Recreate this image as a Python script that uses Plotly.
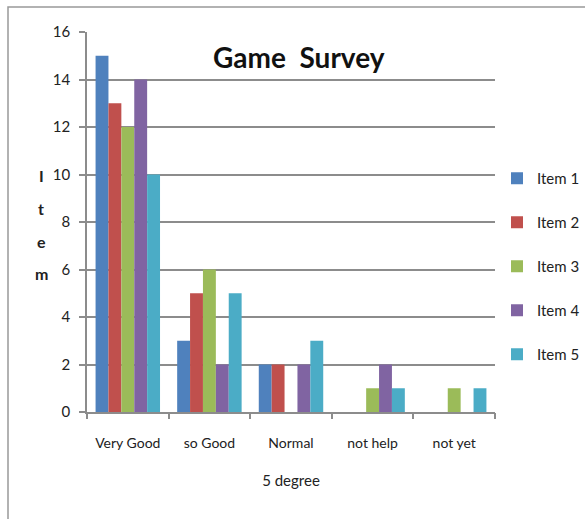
import plotly.graph_objects as go

categories = ["Very Good", "so Good", "Normal", "not help", "not yet"]
series_names = ["Item 1", "Item 2", "Item 3", "Item 4", "Item 5"]
item1 = [15, 3, 2, 0, 0]
item2 = [13, 5, 2, 0, 0]
item3 = [12, 6, 0, 1, 1]
item4 = [14, 2, 2, 2, 0]
item5 = [10, 5, 3, 1, 1]
y_ticks = [0, 2, 4, 6, 8, 10, 12, 14, 16]
colors = ["#4F81BD", "#C0504D", "#9BBB59", "#8064A2", "#4BACC6"]

FONT = "Lato, Liberation Sans Narrow, sans-serif"
W, H = 585, 519
ml, mr, mt, mb = 87, 90, 32, 107

fig = go.Figure()
xs = list(range(len(categories)))
for name, vals, c in zip(series_names, [item1, item2, item3, item4, item5], colors):
    fig.add_trace(go.Bar(x=xs, y=vals, name=name, marker=dict(color=c, line=dict(width=0)),
                         legendgroup=name))

# invisible trace to host boundary tick axis
fig.add_trace(go.Scatter(x=[-0.5, len(categories) - 0.5], y=[0, 0], xaxis="x2", mode="lines",
                         line=dict(width=0), showlegend=False, hoverinfo="skip"))

pw = W - ml - mr
ph = H - mt - mb

fig.update_layout(
    width=W, height=H,
    margin=dict(l=ml, r=mr, t=mt, b=mb, pad=0, autoexpand=False),
    paper_bgcolor="white", plot_bgcolor="white",
    barmode="group", bargap=0.21, bargroupgap=0,
    font=dict(family=FONT, size=15, color="#222"),
    xaxis=dict(range=[-0.5, len(categories) - 0.5], tickvals=xs, ticktext=categories,
               ticks="", showgrid=False, showline=True, linecolor="#8c8c8c", linewidth=1.5,
               zeroline=False, tickfont=dict(size=14, color="#222"), ticklabelstandoff=17,
               automargin=False,
               title=dict(text="5 degree", font=dict(size=15, color="#222"), standoff=26)),
    xaxis2=dict(overlaying="x", range=[-0.5, len(categories) - 0.5],
                tickvals=[i - 0.5 for i in range(len(categories) + 1)], showticklabels=False,
                ticks="outside", ticklen=6, tickwidth=1.5, tickcolor="#8c8c8c",
                showgrid=False, showline=False, zeroline=False, side="bottom", anchor="y"),
    yaxis=dict(range=[0, 16], tickvals=y_ticks, ticks="outside", ticklen=6, tickwidth=1.5,
               tickcolor="#8c8c8c", showgrid=True, gridcolor="#8c8c8c", gridwidth=1.5,
               showline=True, linecolor="#8c8c8c", linewidth=1.5, zeroline=False,
               tickfont=dict(size=15, color="#222"), ticklabelstandoff=6, automargin=False),
    legend=dict(x=(497 - ml) / pw, y=(412 - 162) / ph, xanchor="left", yanchor="top",
                font=dict(size=15, color="#222"), tracegroupgap=21.5, itemwidth=30,
                bgcolor="rgba(0,0,0,0)"),
    showlegend=True,
)

fig.add_annotation(text="<b>Game  Survey</b>", xref="paper", yref="paper",
                   x=(299 - ml) / pw, y=(412 - 57) / ph, showarrow=False,
                   font=dict(size=28, color="#111", family=FONT), xanchor="center", yanchor="middle")
for letter, ypix in zip(["I", "t", "e", "m"], [176, 208, 241, 273]):
    fig.add_annotation(text="<b>" + letter + "</b>", xref="paper", yref="paper",
                       x=(41 - ml) / pw, y=(412 - ypix) / ph, showarrow=False,
                       font=dict(size=16, color="#222", family=FONT),
                       xanchor="center", yanchor="middle")

# outer chart border
fig.add_shape(type="rect", xref="paper", yref="paper",
              x0=(8 - ml) / pw, x1=(600 - ml) / pw, y0=(412 - 540) / ph, y1=(412 - 7) / ph,
              line=dict(color="#999", width=1.5), fillcolor="rgba(0,0,0,0)", layer="below")

fig.write_html("out.html")
